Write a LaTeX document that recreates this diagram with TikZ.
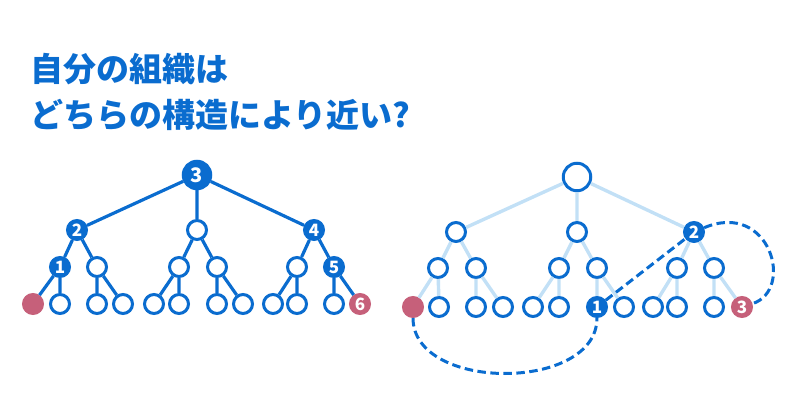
\documentclass[tikz,border=0pt]{standalone}
\usepackage{fontspec}
\newfontfamily\jpfont{Noto Sans CJK JP}
\definecolor{ao}{HTML}{0A6CCF}
\definecolor{usuao}{HTML}{C2E0F6}
\definecolor{beni}{HTML}{C6607A}
\begin{document}
\begin{tikzpicture}[
		  x=1pt, y=-1pt,
		  every node/.style={font=\jpfont\bfseries\fontsize{17}{17}\selectfont, text=white}
		]

		\tikzset{
		    maru/.style={draw=ao, fill=white, circle, line width=3pt, minimum size=19pt, inner sep=0pt},
		    kon/.style={maru, fill=ao},
		    akamaru/.style={maru, draw=beni, fill=beni},
		    oya/.style={minimum size=27.5pt, font=\jpfont\bfseries\fontsize{20}{20}\selectfont},
		    sen/.style={draw=ao, line width=3.2pt},
		    usui/.style={draw=usuao, line width=3.4pt},
		    tensen/.style={draw=ao, line width=3pt, dash pattern=on 8.5pt off 4.5pt},
		    midashi/.style={anchor=west, inner sep=0pt, text=ao, font=\jpfont\bfseries\fontsize{33}{33}\selectfont}
		}

		\useasboundingbox (0,0) rectangle (800,419);

		% タイトル
		\node[midashi] (t1) at (30,69) {自分の組織は};
		\node[midashi] (t2) at (30,115) {どちらの構造により近い?};

		% 左の組織
		\node[kon, oya] (a) at (197,175) {3};
		\node[kon] (b1) at (77,230) {2};
		\node[maru] (b2) at (197,230) {};
		\node[kon] (b3) at (314,230) {4};
		\node[kon] (c1) at (60,267) {1};
		\node[maru] (c2) at (97,267) {};
		\node[maru] (c3) at (179,267) {};
		\node[maru] (c4) at (217,267) {};
		\node[maru] (c5) at (297,267) {};
		\node[kon] (c6) at (334,267) {5};
		\node[akamaru] (d1) at (33,304) {};
		\node[maru] (d2) at (60,304) {};
		\node[maru] (d3) at (97,304) {};
		\node[maru] (d4) at (123,304) {};
		\node[maru] (d5) at (154,304) {};
		\node[maru] (d6) at (179,304) {};
		\node[maru] (d7) at (217,304) {};
		\node[maru] (d8) at (243,304) {};
		\node[maru] (d9) at (273,304) {};
		\node[maru] (d10) at (297,304) {};
		\node[maru] (d11) at (334,304) {};
		\node[akamaru] (d12) at (360,304) {6};

		\draw[sen] (a) -- (b1) (a) -- (b2) (a) -- (b3)
		  (b1) -- (c1) (b1) -- (c2) (b2) -- (c3) (b2) -- (c4) (b3) -- (c5) (b3) -- (c6)
		  (c1) -- (d1) (c1) -- (d2) (c2) -- (d3) (c2) -- (d4) (c3) -- (d5) (c3) -- (d6)
		  (c4) -- (d7) (c4) -- (d8) (c5) -- (d9) (c5) -- (d10) (c6) -- (d11) (c6) -- (d12);

		% 右の組織
		\node[maru, oya] (r) at (577,177) {};
		\node[maru] (e1) at (456,232) {};
		\node[maru] (e2) at (577,232) {};
		\node[kon] (e3) at (694,232) {2};
		\node[maru] (f1) at (438,268) {};
		\node[maru] (f2) at (476,268) {};
		\node[maru] (f3) at (559,268) {};
		\node[maru] (f4) at (597,268) {};
		\node[maru] (f5) at (677,268) {};
		\node[maru] (f6) at (714,268) {};
		\node[akamaru] (g1) at (413,307) {};
		\node[maru] (g2) at (439,307) {};
		\node[maru] (g3) at (476,307) {};
		\node[maru] (g4) at (503,307) {};
		\node[maru] (g5) at (533,307) {};
		\node[maru] (g6) at (559,307) {};
		\node[kon] (g7) at (597,307) {1};
		\node[maru] (g8) at (624,307) {};
		\node[maru] (g9) at (653,307) {};
		\node[maru] (g10) at (677,307) {};
		\node[maru] (g11) at (714,307) {};
		\node[akamaru] (g12) at (742,307) {3};

		\draw[usui] (r) -- (e1) (r) -- (e2) (r) -- (e3)
		  (e1) -- (f1) (e1) -- (f2) (e2) -- (f3) (e2) -- (f4) (e3) -- (f5) (e3) -- (f6)
		  (f1) -- (g1) (f1) -- (g2) (f2) -- (g3) (f2) -- (g4) (f3) -- (g5) (f3) -- (g6)
		  (f4) -- (g7) (f4) -- (g8) (f5) -- (g9) (f5) -- (g10) (f6) -- (g11) (f6) -- (g12);

		% 点線
		\draw[tensen] (g1) .. controls (413,392) and (597,392) .. (g7);
		\draw[tensen] (g7) -- (e3);
		\draw[tensen] (e3) .. controls (770,200) and (795,290) .. (g12);

		\end{tikzpicture}
\end{document}
